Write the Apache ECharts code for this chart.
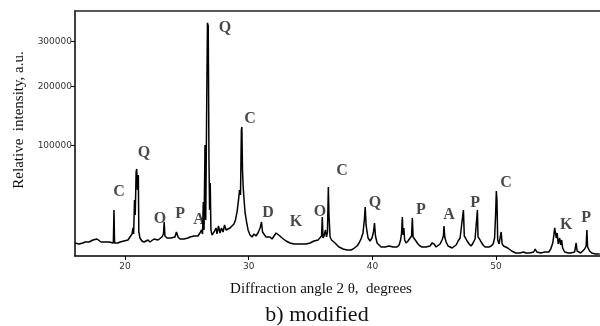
<!DOCTYPE html>
<html><head><meta charset="utf-8">
<script src="https://cdn.jsdelivr.net/npm/echarts@6/dist/echarts.min.js"></script>
<style>html,body{margin:0;padding:0;background:#fff}#c{width:600px;height:326px}</style>
</head><body><div id="c"></div>
<script>
// 2θ (degrees)
const angle = [15.96,16.12,16.28,16.44,16.60,16.77,16.93,17.09,17.25,17.41,17.57,17.74,17.90,18.06,18.22,18.38,18.54,18.71,18.87,
19.06,19.11,19.16,
19.27,19.43,19.60,19.76,19.92,20.08,20.24,20.40,
20.57,20.65,20.70,20.77,20.83,20.90,20.95,21.01,21.08,21.12,
21.21,21.37,21.54,21.70,21.86,22.02,22.18,22.35,22.51,22.67,22.83,22.99,
23.11,23.17,23.23,
23.40,23.56,23.72,23.88,24.04,24.16,24.29,24.45,24.61,24.77,24.93,25.09,25.26,25.42,25.58,25.74,25.90,
26.06,26.19,26.27,26.33,26.39,26.47,26.53,26.61,26.67,26.73,26.79,26.84,26.89,26.95,
27.03,27.20,27.36,27.44,27.56,27.68,27.80,27.93,28.05,28.17,28.33,28.49,28.65,28.81,
28.93,29.06,29.18,29.26,29.34,29.41,29.45,29.50,29.56,29.63,29.71,29.83,29.95,
30.11,30.27,30.43,30.59,30.75,30.92,31.04,31.12,31.24,31.40,31.56,31.72,31.89,32.05,32.21,32.37,32.53,32.70,32.86,33.02,33.18,
33.34,33.50,33.67,33.83,33.99,34.15,34.31,34.47,34.64,34.80,34.96,35.12,35.28,35.44,35.61,35.77,
35.89,35.95,36.01,36.09,36.21,36.29,36.37,36.44,36.49,36.58,36.70,36.82,
36.98,37.14,37.30,37.46,37.63,37.79,37.95,38.11,38.27,38.44,38.60,38.76,38.92,39.08,
39.24,39.35,39.42,39.49,39.57,39.65,39.81,39.97,40.09,40.17,40.25,
40.38,40.54,40.70,40.86,41.02,41.18,41.35,41.51,41.67,41.83,41.99,42.16,
42.28,42.36,42.42,42.48,42.54,42.61,42.72,42.88,43.05,43.17,43.23,43.29,43.41,43.53,
43.69,43.85,44.02,44.18,44.34,44.50,44.66,44.82,44.99,45.15,45.31,45.47,45.63,
45.74,45.79,45.85,45.96,46.12,46.28,46.44,46.60,46.77,46.93,47.09,
47.25,47.36,47.43,47.53,47.66,47.82,47.98,48.14,
48.30,48.42,48.49,48.54,48.66,48.79,48.95,49.11,49.27,49.43,49.60,49.76,49.88,
49.96,50.02,50.07,50.13,50.24,50.41,
50.49,50.61,50.77,50.94,51.10,51.26,51.42,51.59,51.75,51.91,52.07,52.23,52.40,52.56,52.72,52.88,53.04,
53.16,53.29,53.45,53.61,53.77,53.94,54.10,54.26,54.42,
54.58,54.66,54.74,54.80,54.86,54.94,55.02,55.14,55.22,55.30,55.38,
55.54,55.70,55.86,56.03,56.19,56.35,56.47,56.55,56.67,56.84,57.00,57.16,
57.28,57.34,57.40,57.56,57.73,57.89,58.05,58.21,58.38];

// Relative intensity (a.u.)
const intensity = [9560,10000,9130,10000,9560,10000,9560,10000,10460,10920,11870,11390,10460,10000,9560,10000,9560,10000,9560,
9560,29450,9560,
10000,9560,10000,10000,10460,10460,10920,11870,
13910,17260,13910,37630,25730,65850,69330,46800,62450,14980,
11870,10460,10000,10460,10920,10000,10460,11390,10460,10920,11870,12370,
13910,20960,12870,
11870,11390,11870,10920,12370,14980,12370,11390,10920,11390,10920,11870,12370,11870,12870,13390,12870,
14440,16100,13910,35910,16100,100500,22280,174500,348000,340100,80360,29450,53830,16100,
13390,14980,17260,13910,18450,14440,17260,14980,19070,16100,15540,17260,17850,19680,
22280,27940,37630,46800,42090,122900,127700,68160,48750,37630,27190,20960,16100,
13390,12370,13910,12870,14440,17260,20960,14980,13910,12370,11870,12370,11390,12870,14440,14980,12870,11870,10920,10460,10000,
9560,10000,9130,9560,9130,9560,9130,9560,9130,10000,9560,10000,10460,10000,10920,11870,
12870,24340,11870,12870,16100,12370,14980,49750,25730,12370,10920,10460,
9560,8710,7890,7500,7120,7120,6750,7120,6750,7120,7500,8290,9560,11390,
14440,22280,31790,19070,14980,11870,10460,11870,14980,20310,12870,
9560,8710,7890,7500,7890,7500,8290,7500,7890,8290,7890,8710,
10920,14440,24340,13390,17260,10920,9560,10460,11870,12870,23640,12370,11390,10460,
9130,8290,7890,7500,7890,7500,8290,9560,9130,7890,8290,9130,10920,
12870,18450,12370,10000,8290,7890,7500,7890,8710,10460,11870,
12370,29450,12870,11870,10460,9130,8290,9560,
11390,11870,29450,12370,11390,10000,8710,7890,7500,7890,8290,9130,11870,
25730,45840,37630,10920,9130,14980,
9130,8290,7890,7500,7120,6380,6030,5690,5690,5690,5690,6030,5690,5690,5690,5690,6030,
7120,6030,5690,5690,5690,6030,5690,6030,7120,
9560,12870,17260,17850,11870,14440,9130,11870,8710,10920,7500,
6030,5690,5690,5690,6030,6030,9560,6380,5690,5690,6380,7120,
8290,16100,7890,6380,5690,5690,5350,5690,5350];

// Phase labels and where they sit
const peakLabels = ['C','Q','O','P','A','Q','C','D','K','O','C','Q','P','A','P','C','K','P'];
const peakAngles = [19.51,21.54,22.83,24.45,25.98,28.09,30.11,31.56,33.83,35.77,37.55,40.21,43.93,46.20,48.30,50.81,55.66,57.28];
const peakLabelIntensity = [44900,89460,22950,26470,22280,335000,140800,27190,20960,27940,67030,35080,29450,25730,35080,53830,19070,23640];

const yTicks = [100000, 200000, 300000];
const xTicks = [20, 30, 40, 50];
const xRange = [15.96, 58.4];
const yRange = [4720, 380000];

// square-root intensity scale
const f = Math.sqrt;

const chart = echarts.init(document.getElementById('c'), null, {renderer: 'canvas'});
const serif = '"Liberation Serif", "Times New Roman", serif';
const tickFont = {fontFamily: '"DejaVu Sans", sans-serif', fontSize: 9, color: '#333'};

chart.setOption({
  animation: false,
  backgroundColor: '#fff',
  grid: {left: 75, top: 11, right: 0, bottom: 70, containLabel: false},
  xAxis: [{
    type: 'value', position: 'bottom', min: xRange[0], max: xRange[1],
    splitLine: {show: false},
    axisLine: {show: true, onZero: false, lineStyle: {color: '#000', width: 1.5}},
    axisTick: {show: true, customValues: xTicks, length: 4, lineStyle: {color: '#000'}},
    axisLabel: Object.assign({customValues: xTicks, margin: 6}, tickFont)
  }, {
    type: 'value', position: 'top', min: xRange[0], max: xRange[1],
    splitLine: {show: false},
    axisLine: {show: true, onZero: false, lineStyle: {color: '#222', width: 1.5}},
    axisTick: {show: false}, axisLabel: {show: false}
  }],
  yAxis: {
    type: 'value', min: f(yRange[0]), max: f(yRange[1]),
    splitLine: {show: false},
    axisLine: {show: true, onZero: false, lineStyle: {color: '#000', width: 1.5}},
    axisTick: {show: true, customValues: yTicks.map(f), length: 4, lineStyle: {color: '#000'}},
    axisLabel: Object.assign({customValues: yTicks.map(f), margin: 3,
      formatter: v => String(Math.round(v * v))}, tickFont)
  },
  series: [{
    type: 'line', xAxisIndex: 0,
    data: angle.map((a, i) => [a, f(intensity[i])]),
    showSymbol: false, symbol: 'none',
    lineStyle: {color: '#000', width: 1.5},
    clip: true
  }, {
    type: 'scatter', xAxisIndex: 0,
    symbolSize: 0,
    data: peakLabels.map((n, i) => ({name: n, value: [peakAngles[i], f(peakLabelIntensity[i])]})),
    label: {show: true, position: 'inside', formatter: '{b}',
      fontFamily: serif, fontSize: 16, fontWeight: 'bold', color: '#1a1a1a'},
    silent: true
  }],
  graphic: [
    {type: 'text', x: 19, y: 120, rotation: Math.PI / 2,
      style: {text: 'Relative  intensity, a.u.', font: '15px ' + serif, fill: '#111',
        textAlign: 'center', textVerticalAlign: 'middle'}},
    {type: 'text', x: 321, y: 289,
      style: {text: 'Diffraction angle 2 θ,  degrees', font: '15px ' + serif, fill: '#111',
        textAlign: 'center', textVerticalAlign: 'middle'}},
    {type: 'text', x: 317, y: 315,
      style: {text: 'b) modified', font: '22px ' + serif, fill: '#111',
        textAlign: 'center', textVerticalAlign: 'middle'}}
  ]
});
</script>
</body></html>
